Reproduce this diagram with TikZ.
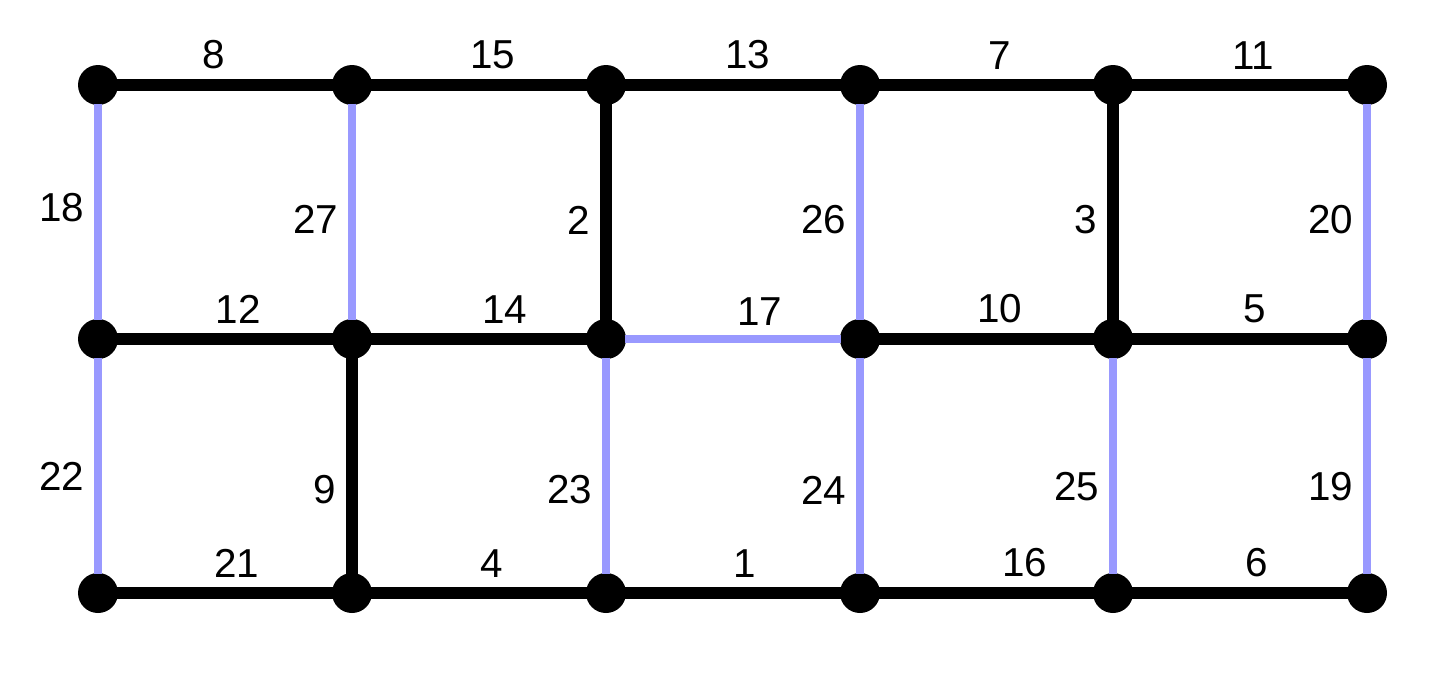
\documentclass[tikz,border=0pt]{standalone}
\usepackage{fontspec}
\setmainfont{Liberation Sans}
\usetikzlibrary{calc}
\definecolor{edgeblue}{RGB}{153,153,255}

\begin{document}
\begin{tikzpicture}[x=0.02cm, y=-0.02cm, line cap=butt,
  vtx/.style={circle, fill=black, minimum size=0.8cm, inner sep=0pt},
  blackedge/.style={line width=0.23cm, black, shorten <=-1pt, shorten >=-1pt},
  blueedge/.style={line width=0.15cm, edgeblue, shorten <=-1pt, shorten >=-1pt},
  hlab/.style={anchor=south, inner sep=0pt, yshift=0.2cm, text=black},
  vlab/.style={anchor=east, inner sep=0pt, xshift=-0.2cm, text=black},
  font=\fontsize{23}{27}\selectfont]

  \useasboundingbox (0,0) rectangle (1449,676);

  %--------------------------
  % Vertices: 3 rows x 6 columns
  %--------------------------
  \foreach \x [count=\i from 0] in {98,352,606,860,1113,1367}
    \foreach \y [count=\j from 0] in {85,339,593}
      \node[vtx] (v\j\i) at (\x,\y) {};

  %--------------------------
  % Horizontal edges
  %--------------------------
  % top row
  \draw[blackedge] (v00) -- node[hlab, pos=0.449] {8} (v01);
  \draw[blackedge] (v01) -- node[hlab, pos=0.565] {15} (v02);
  \draw[blackedge] (v02) -- node[hlab, pos=0.570] {13} (v03);
  \draw[blackedge] (v03) -- node[hlab, pos=0.563] {7} (v04);
  \draw[blackedge] (v04) -- node[hlab, pos=0.561] {11} (v05);

  % middle row
  \draw[blackedge] (v10) -- node[hlab, pos=0.561] {12} (v11);
  \draw[blackedge] (v11) -- node[hlab, pos=0.621] {14} (v12);
  \draw[blueedge]  (v12) -- node[hlab, pos=0.626] {17} (v13);
  \draw[blackedge] (v13) -- node[hlab, pos=0.563] {10} (v14);
  \draw[blackedge] (v14) -- node[hlab, pos=0.570] {5} (v15);

  % bottom row
  \draw[blackedge] (v20) -- node[hlab, pos=0.556] {21} (v21);
  \draw[blackedge] (v21) -- node[hlab, pos=0.561] {4} (v22);
  \draw[blackedge] (v22) -- node[hlab, pos=0.556] {1} (v23);
  \draw[blackedge] (v23) -- node[hlab, pos=0.681] {16} (v24);
  \draw[blackedge] (v24) -- node[hlab, pos=0.579] {6} (v25);

  %--------------------------
  % Vertical edges
  %--------------------------
  % upper half
  \draw[blueedge]  (v00) -- node[vlab, pos=0.481] {18} (v10);
  \draw[blueedge]  (v01) -- node[vlab, pos=0.533] {27} (v11);
  \draw[blackedge] (v02) -- node[vlab, pos=0.537] {2} (v12);
  \draw[blueedge]  (v03) -- node[vlab, pos=0.537] {26} (v13);
  \draw[blackedge] (v04) -- node[vlab, pos=0.537] {3} (v14);
  \draw[blueedge]  (v05) -- node[vlab, pos=0.537] {20} (v15);

  % lower half
  \draw[blueedge]  (v10) -- node[vlab, pos=0.551] {22} (v20);
  \draw[blackedge] (v11) -- node[vlab, pos=0.612] {9} (v21);
  \draw[blueedge]  (v12) -- node[vlab, pos=0.612] {23} (v22);
  \draw[blueedge]  (v13) -- node[vlab, pos=0.612] {24} (v23);
  \draw[blueedge]  (v14) -- node[vlab, pos=0.598] {25} (v24);
  \draw[blueedge]  (v15) -- node[vlab, pos=0.598] {19} (v25);

\end{tikzpicture}
\end{document}
